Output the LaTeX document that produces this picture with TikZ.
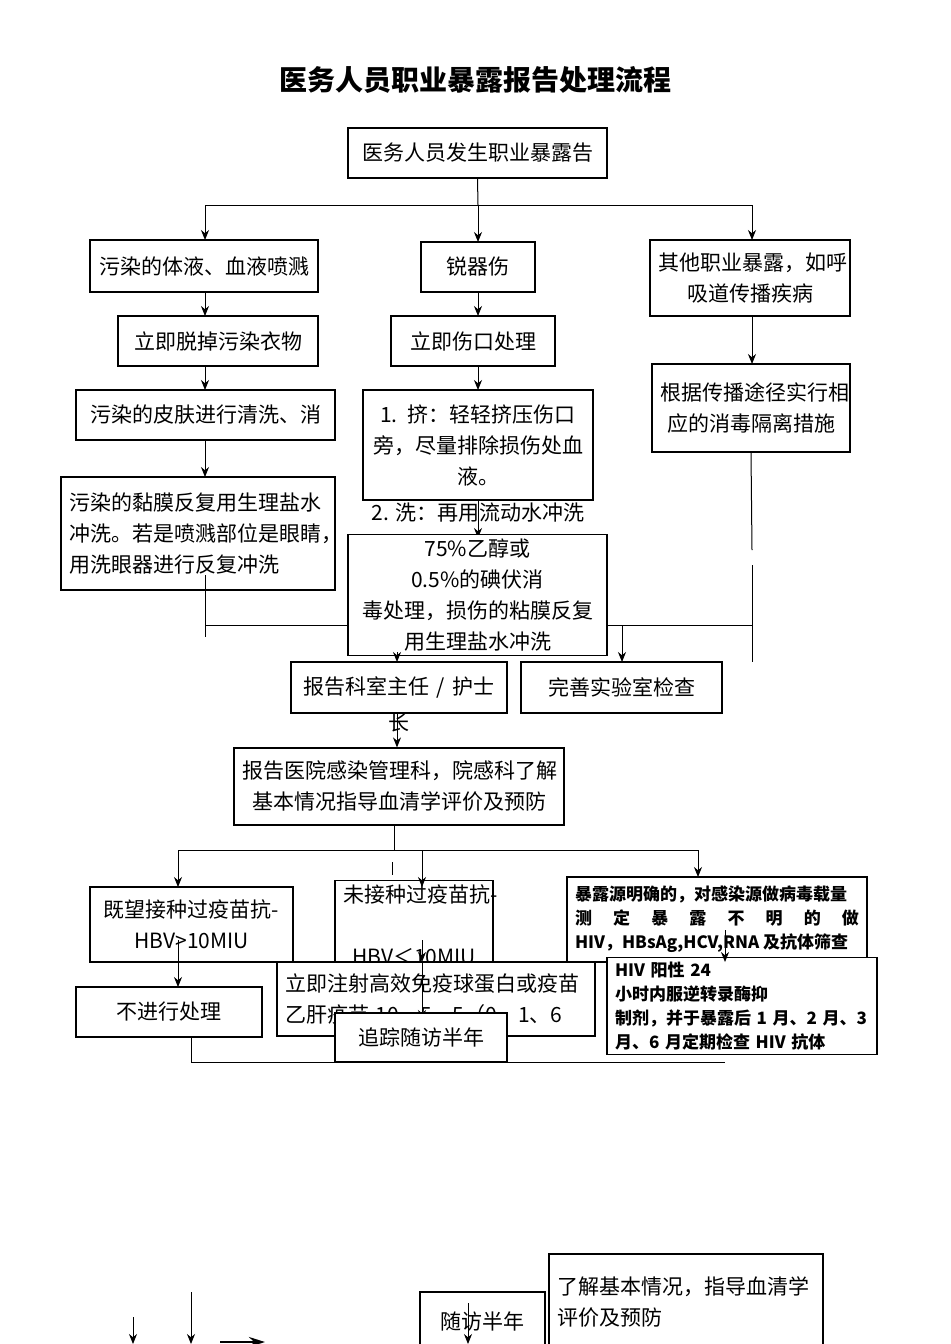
\documentclass[tikz,border=0pt]{standalone}
\usepackage{fontspec}
\setmainfont{Noto Sans CJK SC}
\usetikzlibrary{arrows.meta}
\newcommand\pbox[7][]{\node[bx,minimum width={(#5-#3)*0.5pt},minimum height={(#6-#4)*0.5pt},text width={(#5-#3)*0.5pt-8pt},#1] (#2) at ({(#3+#5)/2},{(#4+#6)/2}) {#7};}
\begin{document}
\begin{tikzpicture}[x=0.5pt,y=-0.5pt,
  bx/.style={draw,line width=0.6pt,fill=white,inner sep=2pt,align=center,font=\fontsize{10.5}{15.5}\selectfont},
  sb/.style={font=\fontsize{8.5}{12}\selectfont\bfseries},
  ar/.style={-{Stealth[length=5pt,width=4pt]},line width=0.5pt},
  ln/.style={line width=0.5pt}]
\useasboundingbox (0,0) rectangle (950,1344);
\node (title) at (475,80) {\fontsize{14}{16}\selectfont\bfseries 医务人员职业暴露报告处理流程};
\pbox{b1}{348}{128}{607}{178}{医务人员发生职业暴露告}
\coordinate (j1) at (478,205);
\draw[ln] (b1.south) -- (j1);
\draw[ln] (205,205) -- (752,205);
\pbox{a1}{90}{240}{318}{292}{污染的体液、血液喷溅}
\pbox{a2}{421}{242}{535}{292}{锐器伤}
\pbox{a3}{650}{240}{850}{316}{其他职业暴露，如呼\\吸道传播疾病}
\draw[ar] (205,205) -- (205,240);
\draw[ar] (j1) -- (478,242);
\draw[ar] (752,205) -- (752,240);
\pbox{b2}{118}{316}{318}{366}{立即脱掉污染衣物}
\pbox{b3}{391}{316}{555}{366}{立即伤口处理}
\pbox{b4}{652}{364}{850}{452}{根据传播途径实行相\\应的消毒隔离措施}
\draw[ar] (205,292) -- (205,316);
\draw[ar] (478,292) -- (478,316);
\draw[ar] (752,316) -- (752,364);
\pbox{c1}{76}{390}{335}{440}{污染的皮肤进行清洗、消}
\pbox{c2}{363}{390}{593}{500}{1. 挤：轻轻挤压伤口\\旁，尽量排除损伤处血\\液。}
\draw[ar] (205,366) -- (205,390);
\draw[ar] (478,366) -- (478,390);
\pbox[align=left]{d1}{61}{477}{335}{590}{污染的黏膜反复用生理盐水\\冲洗。若是喷溅部位是眼睛，\\用洗眼器进行反复冲洗}
\draw[ar] (205,440) -- (205,477);
\draw[ar] (478,500) -- (478,538);
\node[font=\fontsize{10.5}{12}\selectfont] (wash) at (478,513) {2. 洗：再用流动水冲洗};
\pbox{d2}{348}{538}{607}{652}{75\%乙醇或 0.5\%的碘伏消\\毒处理，损伤的粘膜反复\\用生理盐水冲洗}
\draw[ln] (205,575) -- (205,637);
\draw[ln] (205,625) -- (d2.west |- 0,625);
\draw[ln] (d2.east |- 0,625) -- (752,625);
\draw[ln] (b4.south) -- (752,550);
\draw[ln] (752,565) -- (752,662);
\pbox{e1}{291}{662}{507}{713}{报告科室主任 / 护士}
\pbox{e2}{521}{662}{722}{713}{完善实验室检查}
\draw[ar] (397,652) -- (397,662);
\draw[ar] (622,625) -- (622,662);
\node[font=\fontsize{10.5}{12}\selectfont] (chang) at (399,722) {长};
\pbox{f}{234}{748}{564}{825}{报告医院感染管理科，院感科了解\\基本情况指导血清学评价及预防}
\draw[ar] (397,713) -- (f.north -| 397,0);
\draw[ln] (394,825) -- (394,850);
\draw[ln] (178,850) -- (698,850);
\draw[ln] (392,862) -- (392,875);
\pbox{g1}{90}{887}{293}{962}{既望接种过疫苗抗-\\HBV>10MIU}
\pbox{g2}{335}{887}{493}{962}{未接种过疫苗抗-\\HBV＜10MIU}
\pbox[sb,align=justify]{g3}{567}{877}{867}{962}{暴露源明确的，对感染源做病毒载量\\测\hfill 定\hfill 暴\hfill 露\hfill 不\hfill 明\hfill 的\hfill 做\\HIV，HBsAg,HCV,RNA 及抗体筛查}
\draw[ar] (178,850) -- (178,887);
\draw[ar] (422,850) -- (422,887);
\draw[ar] (698,850) -- (698,877);
\pbox{h1}{76}{987}{262}{1037}{不进行处理}
\pbox[align=left]{h2}{277}{962}{595}{1036}{立即注射高效免疫球蛋白或疫苗\\乙肝疫苗 10、5、5（0、1、6}
\pbox[sb,align=left]{h3}{607}{962}{877}{1050}{HIV 阳性 24 小时内服逆转录酶抑\\制剂，并于暴露后 1 月、2 月、3\\月、6 月定期检查 HIV 抗体}
\draw[ar] (178,940) -- (178,987);
\draw[ar] (422,940) -- (422,962);
\draw[ar] (422,962) -- (422,1020);
\draw[ar] (725,930) -- (725,962);
\draw[ln] (191,1037) -- (191,1062) -- (725,1062);
\pbox{i}{335}{1013}{507}{1062}{追踪随访半年}
\pbox{k1}{420}{1292}{545}{1350}{随访半年}
\pbox[align=left]{k2}{549}{1254}{823}{1350}{了解基本情况，指导血清学\\评价及预防}
\draw[ar] (468,1303) -- (468,1344);
\draw[ar] (133,1317) -- (133,1344);
\draw[ar] (191,1292) -- (191,1344);
\draw[-{Stealth[length=8pt,width=5pt]},line width=1.2pt] (220,1342) -- (265,1342);
\end{tikzpicture}
\end{document}
